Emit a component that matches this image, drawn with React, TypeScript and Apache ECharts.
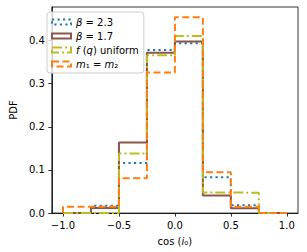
import React, { useEffect, useRef } from "react";
import * as echarts from "echarts";

const binEdges = [-1, -0.75, -0.5, -0.25, 0, 0.25, 0.5, 0.75, 1];
const beta23 = [0, 0.017, 0.116, 0.378, 0.394, 0.083, 0.018, 0];
const beta17 = [0, 0.012, 0.164, 0.372, 0.398, 0.041, 0.011, 0];
const fqUniform = [0, 0, 0.138, 0.366, 0.411, 0.048, 0.047, 0];
const m1EqM2 = [0.015, 0.015, 0.081, 0.326, 0.454, 0.095, 0.015, 0];
const seriesNames = ["β = 2.3", "β = 1.7", "f (q) uniform", "m₁ = m₂"];
const legendLabels = ["{it|β} = 2.3", "{it|β} = 1.7", "{it|f} ({it|q}) uniform", "{it|m}₁ = {it|m}₂"];
const xTicks = [-1, -0.5, 0, 0.5, 1];
const yTicks = [0, 0.1, 0.2, 0.3, 0.4];
const xAxisLabel = "cos ({it|i}₀)";
const yAxisLabel = "PDF";

const FONT = "DejaVu Sans";
const colors = ["#1f77b4", "#8c564b", "#bcbd22", "#ff7f0e"];
const dashes: any[] = [[2.2, 3.3], "solid", [10, 3, 2, 3], [7, 3.5]];

function staircase(h: number[]): [number, number][] {
  const pts: [number, number][] = [[binEdges[0], 0]];
  h.forEach((v, i) => {
    pts.push([binEdges[i], v]);
    pts.push([binEdges[i + 1], v]);
  });
  pts.push([binEdges[binEdges.length - 1], 0]);
  return pts;
}

const fmtTick = (v: number) => {
  const s = Math.abs(v).toFixed(1);
  return v < 0 ? "\u2212" + s : s;
};

export default function App() {
  const ref = useRef<HTMLDivElement>(null);
  useEffect(() => {
    if (!ref.current) return;
    const chart = echarts.init(ref.current, null, { renderer: "svg" });
    const allSeries = [beta23, beta17, fqUniform, m1EqM2];
    const rich = {
      it: { fontStyle: "italic", fontSize: 10, fontFamily: FONT, color: "#000", lineHeight: 12 },
    };
    chart.setOption({
      animation: false,
      grid: {
        left: 43,
        right: 9,
        top: 7,
        bottom: 37,
        show: true,
        borderColor: "#000",
        borderWidth: 0.8,
        backgroundColor: "transparent",
      },
      xAxis: {
        type: "value",
        min: -1.1,
        max: 1.1,
        name: xAxisLabel,
        nameLocation: "middle",
        nameGap: 20,
        nameTextStyle: { fontSize: 10, fontFamily: FONT, color: "#000", lineHeight: 12, rich },
        axisLine: { show: true, onZero: false, lineStyle: { color: "#000", width: 0.8 } },
        axisTick: { show: true, customValues: xTicks, length: 3.5, lineStyle: { color: "#000", width: 0.8 } },
        axisLabel: {
          customValues: xTicks,
          formatter: fmtTick,
          fontSize: 10,
          fontFamily: FONT,
          color: "#000",
          margin: 7,
        },
        splitLine: { show: false },
      },
      yAxis: {
        type: "value",
        min: 0,
        max: 0.478,
        name: yAxisLabel,
        nameLocation: "middle",
        nameGap: 27,
        nameTextStyle: { fontSize: 10, fontFamily: FONT, color: "#000" },
        axisLine: { show: true, onZero: false, lineStyle: { color: "#000", width: 0.8 } },
        axisTick: { show: true, customValues: yTicks, length: 3.5, lineStyle: { color: "#000", width: 0.8 } },
        axisLabel: {
          customValues: yTicks,
          formatter: fmtTick,
          fontSize: 10,
          fontFamily: FONT,
          color: "#000",
          margin: 7,
        },
        splitLine: { show: false },
      },
      legend: {
        orient: "vertical",
        left: 47,
        top: 12,
        padding: [4, 5, 3, 4],
        itemGap: 2,
        itemWidth: 19,
        itemHeight: 5,
        backgroundColor: "rgba(255,255,255,0.8)",
        borderColor: "#cccccc",
        borderWidth: 1,
        borderRadius: 3,
        textStyle: { fontSize: 10, fontFamily: FONT, color: "#000", lineHeight: 12, rich },
        formatter: (name: string) => legendLabels[seriesNames.indexOf(name)],
        data: seriesNames.map((n, i) => ({
          name: n,
          icon: "rect",
          itemStyle: {
            color: "transparent",
            borderColor: colors[i],
            borderWidth: 2,
            borderType: dashes[i],
          },
        })),
      },
      series: allSeries.map((h, i) => ({
        type: "line",
        name: seriesNames[i],
        data: staircase(h),
        symbol: "none",
        showSymbol: false,
        color: colors[i],
        lineStyle: { color: colors[i], width: 2, type: dashes[i] },
        z: 2 + i,
      })),
    });
    return () => chart.dispose();
  }, []);
  return (
    <div
      ref={ref}
      style={{ position: "fixed", left: 0, top: 0, width: 307, height: 252, background: "#fff" }}
    />
  );
}
